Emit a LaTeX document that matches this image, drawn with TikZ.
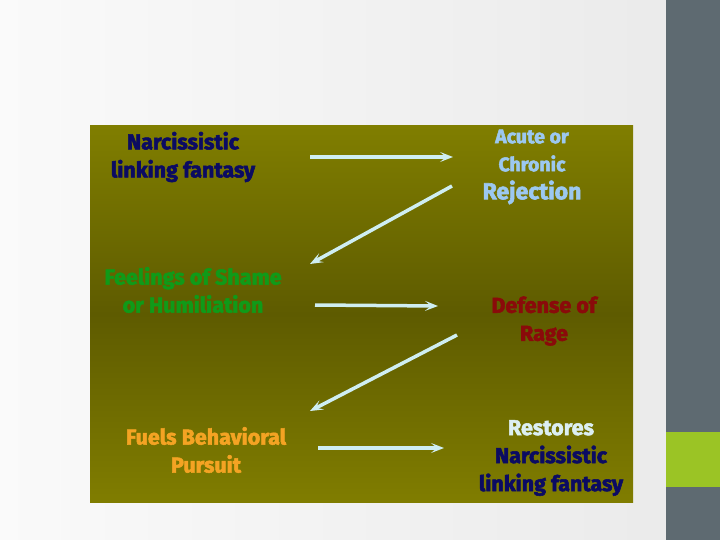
\documentclass[tikz,border=0pt]{standalone}
\usepackage{fontspec}
\setmainfont{Fira Sans}[BoldFeatures={FakeBold=2.5}]
\usetikzlibrary{arrows.meta}
\definecolor{olivetop}{HTML}{807E00}
\definecolor{olivemid}{HTML}{5E5B00}
\definecolor{olivebot}{HTML}{807D00}
\definecolor{stripgrey}{HTML}{5E6A71}
\definecolor{stripgreen}{HTML}{9BC425}
\definecolor{arrowcol}{HTML}{CFEEF2}
\definecolor{navytext}{HTML}{0B0B62}
\definecolor{bluetext}{HTML}{9CC8F0}
\definecolor{greentext}{HTML}{109A18}
\definecolor{redtext}{HTML}{8A0A0A}
\definecolor{orangetext}{HTML}{F4A323}
\definecolor{whitetext}{HTML}{DCEFF2}
\tikzset{
  lbl/.style={font=\bfseries\fontsize{21.5}{28}\selectfont, align=center, inner sep=0pt},
  flow/.style={line width=3.5pt, arrowcol, -{Stealth[length=13pt,width=10pt,inset=6pt]}},
}
\begin{document}
\begin{tikzpicture}[x=1pt,y=-1pt]
\useasboundingbox (0,0) rectangle (720,540);
% background
\shade[left color=white!98!black, right color=white!92!black] (0,0) rectangle (666,540);
\fill[stripgrey] (666,0) rectangle (720,540);
\fill[stripgreen] (666,432) rectangle (720,487);
% olive panel
\shade[top color=olivetop, bottom color=olivebot, middle color=olivemid] (90,126) rectangle (633,502);
% labels
\node[lbl, navytext] (n1) at (183,157) {Narcissistic\\linking fantasy};
\node[lbl, bluetext] (n2) at (532,167) {\fontsize{19.5}{23}\selectfont Acute or\\\fontsize{19.5}{24}\selectfont Chronic\\\fontsize{23}{25}\selectfont Rejection};
\node[lbl, greentext] (n3) at (193,290) {Feelings of Shame\\or Humiliation};
\node[lbl, redtext] (n4) at (544,321) {Defense of\\Rage};
\node[lbl, orangetext] (n5) at (206,450) {Fuels Behavioral\\Pursuit};
\node[lbl, align=center] (n6) at (551,458) {\textcolor{whitetext}{Restores}\\\textcolor{navytext}{Narcissistic}\\\textcolor{navytext}{linking fantasy}};
% arrow endpoints
\coordinate (a1s) at (310,157); \coordinate (a1e) at (453,157);
\coordinate (a2s) at (452,186); \coordinate (a2e) at (310,264);
\coordinate (a3s) at (315,305); \coordinate (a3e) at (438,306);
\coordinate (a4s) at (457,335); \coordinate (a4e) at (310,411);
\coordinate (a5s) at (318,448); \coordinate (a5e) at (444,448);
\draw[flow] (a1s) -- (a1e);
\draw[flow] (a2s) -- (a2e);
\draw[flow] (a3s) -- (a3e);
\draw[flow] (a4s) -- (a4e);
\draw[flow] (a5s) -- (a5e);
\end{tikzpicture}
\end{document}
